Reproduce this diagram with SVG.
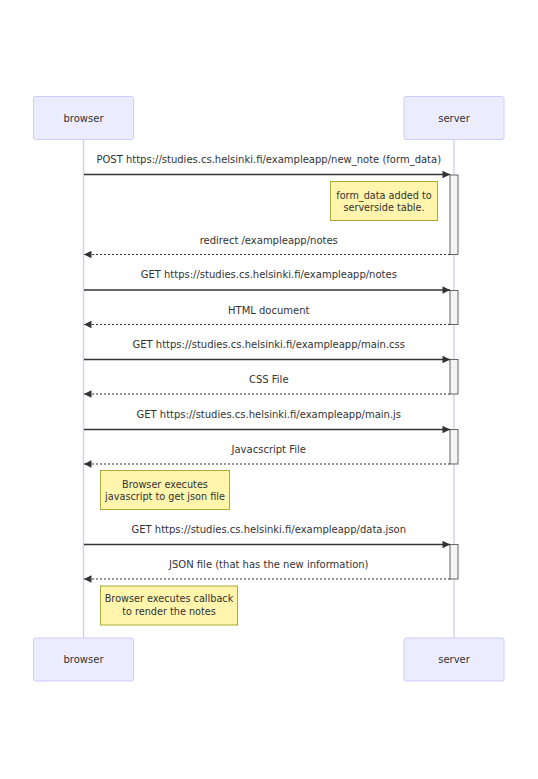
<svg xmlns="http://www.w3.org/2000/svg" width="538" height="779" viewBox="0 0 538 779">
  <defs>
    <style>
      .actor { fill: #ececff; stroke: #ccccff; stroke-width: 1; }
      .actor-label { font-family: "DejaVu Sans", Verdana, sans-serif; font-size: 10px; fill: #333; text-anchor: middle; }
      .lifeline { stroke: #d3c9f2; stroke-width: 1.3; }
      .msg { stroke: #333; stroke-width: 1.3; fill: none; }
      .reply { stroke: #333; stroke-width: 1.2; fill: none; stroke-dasharray: 2 2; }
      .msg-label { font-family: "DejaVu Sans", Verdana, sans-serif; font-size: 10px; fill: #333; text-anchor: middle; }
      .activation { fill: #f4f4f4; stroke: #666; stroke-width: 1; }
      .note { fill: #fff5ad; stroke: #aaaa33; stroke-width: 1; }
      .note-label { font-family: "DejaVu Sans", Verdana, sans-serif; font-size: 9.7px; fill: #333; text-anchor: middle; }
    </style>
    <marker id="arrowhead" viewBox="0 0 10 10" refX="10" refY="5" markerUnits="userSpaceOnUse" markerWidth="8.5" markerHeight="7.5" orient="auto-start-reverse">
      <path d="M0,0 L10,5 L0,10 Z" fill="#333"/>
    </marker>
  </defs>

  <rect width="538" height="779" fill="#ffffff"/>

  <!-- lifelines -->
  <g id="lifelines">
    <line class="lifeline" x1="83.5" y1="139.5" x2="83.5" y2="638"/>
    <line class="lifeline" x1="454" y1="139.5" x2="454" y2="638"/>
  </g>

  <!-- participants, top and bottom -->
  <g id="browser-top">
    <rect class="actor" x="33.5" y="96.5" width="100" height="43" rx="2"/>
    <text class="actor-label" x="83.5" y="121.5">browser</text>
  </g>
  <g id="server-top">
    <rect class="actor" x="404" y="96.5" width="100" height="43" rx="2"/>
    <text class="actor-label" x="454" y="121.5">server</text>
  </g>
  <g id="browser-bottom">
    <rect class="actor" x="33.5" y="638" width="100" height="43" rx="2"/>
    <text class="actor-label" x="83.5" y="663">browser</text>
  </g>
  <g id="server-bottom">
    <rect class="actor" x="404" y="638" width="100" height="43" rx="2"/>
    <text class="actor-label" x="454" y="663">server</text>
  </g>

  <!-- server activations -->
  <g id="activations">
    <rect class="activation" x="450" y="175" width="8" height="79.5"/>
    <rect class="activation" x="450" y="290.5" width="8" height="34"/>
    <rect class="activation" x="450" y="359.5" width="8" height="34.5"/>
    <rect class="activation" x="450" y="429.5" width="8" height="34.5"/>
    <rect class="activation" x="450" y="544.5" width="8" height="34.5"/>
  </g>

  <!-- messages -->
  <g id="connectors">
    <line class="msg" x1="84" y1="174.5" x2="450" y2="174.5" marker-end="url(#arrowhead)"/>
    <text class="msg-label" x="268.75" y="163">POST https://studies.cs.helsinki.fi/exampleapp/new_note (form_data)</text>

    <line class="reply" x1="450" y1="254.5" x2="84" y2="254.5" marker-end="url(#arrowhead)"/>
    <text class="msg-label" x="268.75" y="244">redirect /exampleapp/notes</text>

    <line class="msg" x1="84" y1="290" x2="450" y2="290" marker-end="url(#arrowhead)"/>
    <text class="msg-label" x="268.75" y="278">GET https://studies.cs.helsinki.fi/exampleapp/notes</text>

    <line class="reply" x1="450" y1="324.5" x2="84" y2="324.5" marker-end="url(#arrowhead)"/>
    <text class="msg-label" x="268.75" y="313.5">HTML document</text>

    <line class="msg" x1="84" y1="359.5" x2="450" y2="359.5" marker-end="url(#arrowhead)"/>
    <text class="msg-label" x="268.75" y="348">GET https://studies.cs.helsinki.fi/exampleapp/main.css</text>

    <line class="reply" x1="450" y1="394" x2="84" y2="394" marker-end="url(#arrowhead)"/>
    <text class="msg-label" x="268.75" y="383">CSS File</text>

    <line class="msg" x1="84" y1="429.5" x2="450" y2="429.5" marker-end="url(#arrowhead)"/>
    <text class="msg-label" x="268.75" y="417.5">GET https://studies.cs.helsinki.fi/exampleapp/main.js</text>

    <line class="reply" x1="450" y1="464" x2="84" y2="464" marker-end="url(#arrowhead)"/>
    <text class="msg-label" x="268.75" y="453">Javacscript File</text>

    <line class="msg" x1="84" y1="544.5" x2="450" y2="544.5" marker-end="url(#arrowhead)"/>
    <text class="msg-label" x="268.75" y="532.5">GET https://studies.cs.helsinki.fi/exampleapp/data.json</text>

    <line class="reply" x1="450" y1="579" x2="84" y2="579" marker-end="url(#arrowhead)"/>
    <text class="msg-label" x="268.75" y="568">JSON file (that has the new information)</text>
  </g>

  <!-- notes -->
  <g id="note-form-data">
    <rect class="note" x="330.5" y="181.5" width="107" height="39"/>
    <text class="note-label" x="384" y="198.5">form_data added to</text>
    <text class="note-label" x="384" y="211">serverside table.</text>
  </g>
  <g id="note-execute-js">
    <rect class="note" x="100.5" y="470.5" width="129" height="39"/>
    <text class="note-label" x="165" y="487.5">Browser executes</text>
    <text class="note-label" x="165" y="500">javascript to get json file</text>
  </g>
  <g id="note-callback">
    <rect class="note" x="100.5" y="586" width="137" height="39"/>
    <text class="note-label" x="169" y="602">Browser executes callback</text>
    <text class="note-label" x="169" y="615">to render the notes</text>
  </g>
</svg>
